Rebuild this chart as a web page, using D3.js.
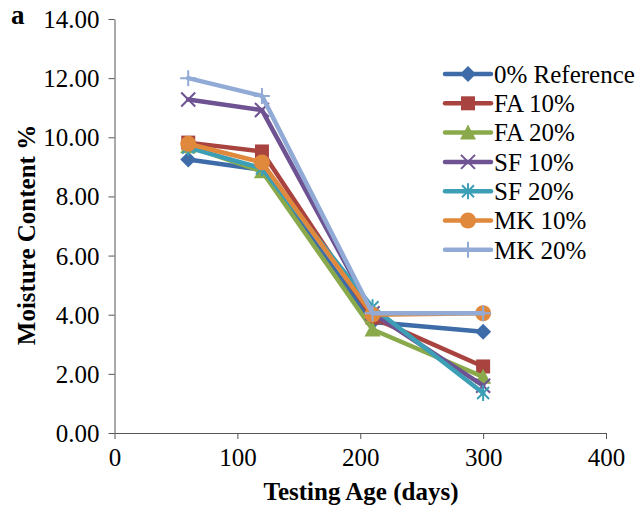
<!DOCTYPE html>
<html>
<head>
<meta charset="utf-8">
<script src="https://cdn.jsdelivr.net/npm/d3@7/dist/d3.min.js"></script>
<style>
  html, body { margin: 0; padding: 0; background: #fff; }
  svg { display: block; }
  svg text { font-family: "Liberation Serif", "Times New Roman", serif; fill: #000; }
</style>
</head>
<body>
<svg id="chart" width="639" height="513"></svg>
<script>
// Testing ages (days)
const ages = [60, 120, 210, 300];

// Moisture content (%) per mix
const ref0  = [9.25, 8.90, 3.75, 3.42];
const fa10  = [9.82, 9.52, 3.90, 2.25];
const fa20  = [9.70, 8.85, 3.50, 1.90];
const sf10  = [11.28, 10.92, 4.05, 1.60];
const sf20  = [9.65, 8.95, 4.25, 1.35];
const mk10  = [9.78, 9.15, 4.00, 4.05];
const mk20  = [12.00, 11.40, 4.05, 4.05];

const seriesNames = ["0% Reference", "FA 10%", "FA 20%", "SF 10%", "SF 20%", "MK 10%", "MK 20%"];
const seriesValues = [ref0, fa10, fa20, sf10, sf20, mk10, mk20];
const seriesColors = ["#3e6ca8", "#a8433f", "#89a94b", "#6e5292", "#3c9fb6", "#e0893c", "#92abd6"];
const seriesMarkers = ["diamond", "square", "triangle", "x", "asterisk", "circle", "plus"];

const xTicks = [0, 100, 200, 300, 400];
const yTicks = [0, 2, 4, 6, 8, 10, 12, 14];

const FONT = "'Liberation Serif', 'Times New Roman', serif";

const svg = d3.select("#chart");
const x = d3.scaleLinear().domain([0, 400]).range([114.5, 606]);
const y = d3.scaleLinear().domain([0, 14]).range([433, 19]);

// Axes
const xAxis = d3.axisBottom(x).tickValues(xTicks).tickSize(6).tickSizeOuter(0).tickPadding(6)
  .tickFormat(d3.format("d"));
const yAxis = d3.axisLeft(y).tickValues(yTicks).tickSize(6).tickSizeOuter(0).tickPadding(9)
  .tickFormat(d3.format(".2f"));

const gx = svg.append("g").attr("transform", `translate(0,${y(0)})`).call(xAxis);
const gy = svg.append("g").attr("transform", `translate(${x(0)},0)`).call(yAxis);
[gx, gy].forEach(g => {
  g.attr("font-family", FONT);
  g.selectAll("path, line").attr("stroke", "#555").attr("stroke-width", 1);
  g.selectAll("text").attr("fill", "#000").style("font-size", "25px").style("font-family", FONT);
});
gx.selectAll("text").attr("dy", "0.85em");
gy.selectAll("text").attr("dy", "0.34em");

// Axis titles
svg.append("text")
  .attr("x", 361).attr("y", 500)
  .attr("text-anchor", "middle")
  .style("font-family", FONT)
  .style("font-size", "25px").style("font-weight", "bold")
  .text("Testing Age (days)");

svg.append("text")
  .attr("transform", `translate(35,${235}) rotate(-90)`)
  .attr("text-anchor", "middle")
  .style("font-family", FONT)
  .style("font-size", "25px").style("font-weight", "bold")
  .text("Moisture Content %");

svg.append("text")
  .attr("x", 11).attr("y", 24)
  .style("font-family", FONT)
  .style("font-size", "27px").style("font-weight", "bold")
  .text("a");

// Marker drawing
function drawMarker(g, type, cx, cy, color) {
  const m = g.append("g").attr("transform", `translate(${cx},${cy})`);
  switch (type) {
    case "diamond":
      m.append("path").attr("d", "M0,-8L8,0L0,8L-8,0Z").attr("fill", color);
      break;
    case "square":
      m.append("rect").attr("x", -7).attr("y", -7).attr("width", 14).attr("height", 14).attr("fill", color);
      break;
    case "triangle":
      m.append("path").attr("d", "M0,-8L8,7L-8,7Z").attr("fill", color);
      break;
    case "circle":
      m.append("circle").attr("r", 8).attr("fill", color);
      break;
    case "x":
      m.append("path").attr("d", "M-7,-7L7,7M-7,7L7,-7").attr("stroke", color).attr("stroke-width", 2).attr("fill", "none");
      break;
    case "asterisk":
      m.append("path").attr("d", "M-6,-6L6,6M-6,6L6,-6M0,-8L0,8").attr("stroke", color).attr("stroke-width", 2).attr("fill", "none");
      break;
    case "plus":
      m.append("path").attr("d", "M-8,0L8,0M0,-8L0,8").attr("stroke", color).attr("stroke-width", 2).attr("fill", "none");
      break;
  }
}

// Series lines and markers
const line = d3.line().x((d, i) => x(ages[i])).y(d => y(d));
seriesValues.forEach((vals, s) => {
  const g = svg.append("g");
  g.append("path").datum(vals)
    .attr("d", line)
    .attr("fill", "none")
    .attr("stroke", seriesColors[s])
    .attr("stroke-width", 4.5)
    .attr("stroke-linejoin", "round")
    .attr("stroke-linecap", "round");
  vals.forEach((v, i) => drawMarker(g, seriesMarkers[s], x(ages[i]), y(v), seriesColors[s]));
});

// Legend
const legend = svg.append("g");
seriesNames.forEach((name, s) => {
  const ly = 74 + s * 29.3;
  legend.append("line")
    .attr("x1", 445).attr("x2", 491).attr("y1", ly).attr("y2", ly)
    .attr("stroke", seriesColors[s]).attr("stroke-width", 4.5).attr("stroke-linecap", "round");
  drawMarker(legend, seriesMarkers[s], 468, ly, seriesColors[s]);
  legend.append("text")
    .attr("x", 494).attr("y", ly).attr("dy", "0.35em")
    .style("font-family", FONT)
    .style("font-size", "25px")
    .text(name);
});
</script>
</body>
</html>
